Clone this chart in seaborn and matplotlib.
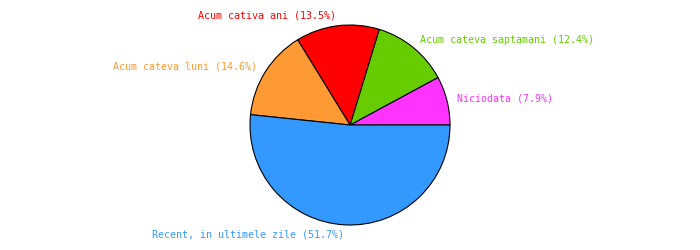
import matplotlib
matplotlib.use("Agg")
import matplotlib.pyplot as plt
import seaborn as sns

categories = ["Niciodata", "Acum cateva saptamani", "Acum cativa ani",
              "Acum cateva luni", "Recent, in ultimele zile"]
percentages = [7.9, 12.4, 13.5, 14.6, 51.7]
colors = ["#FF33FF", "#66CC00", "#FF0000", "#FF9933", "#3399FF"]

sns.set_theme(style="white")
plt.rcParams['font.family'] = ['DejaVu Sans Mono']

fig = plt.figure(figsize=(7, 2.5), dpi=100)
ax = fig.add_axes([0, 0, 1, 1])
labels = [f"{c} ({p}%)" for c, p in zip(categories, percentages)]
wedges, texts = ax.pie(percentages, labels=labels, colors=colors, startangle=0,
                       counterclock=True, labeldistance=1.1, radius=1.0,
                       wedgeprops=dict(edgecolor="black", linewidth=0.8),
                       textprops=dict(fontsize=7.2))
for t, c in zip(texts, colors):
    t.set_color(c)
ax.set_xlim(-3.5, 3.5)
ax.set_ylim(-1.25, 1.25)
ax.set_aspect("equal")
ax.axis("off")
fig.savefig("out.png", dpi=100, facecolor="white")
